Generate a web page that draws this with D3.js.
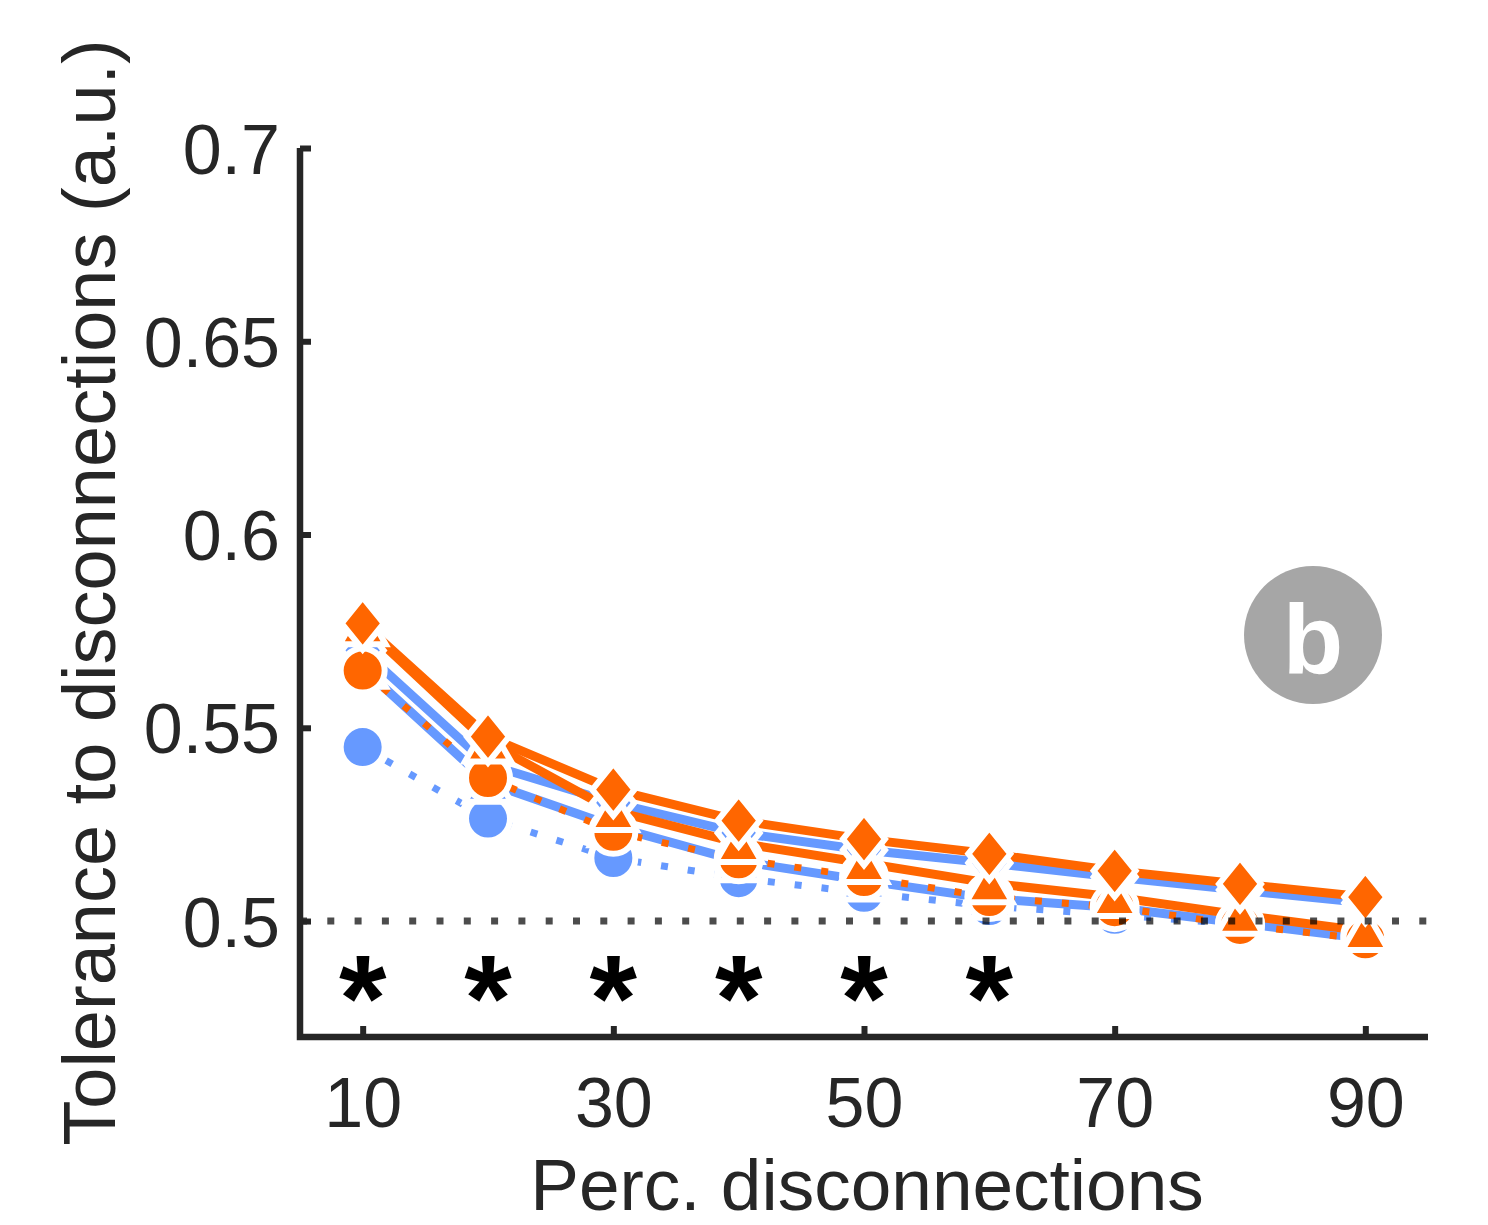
<!DOCTYPE html>
<html>
<head>
<meta charset="utf-8">
<script src="https://cdn.jsdelivr.net/npm/d3@7"></script>
<style>
  body { margin: 0; background: #fff; }
  text { font-family: "Liberation Sans", Arial, Helvetica, sans-serif; }
</style>
</head>
<body>
<svg id="chart" width="1488" height="1225"></svg>
<script>
// x positions (percentage of disconnections)
const percents = [10, 20, 30, 40, 50, 60, 70, 80, 90];
const xTicks = [10, 30, 50, 70, 90];
const yTicks = [0.5, 0.55, 0.6, 0.65, 0.7];

// series
const orangeDiamond  = [0.577, 0.5477, 0.534, 0.526, 0.5212, 0.5174, 0.513, 0.5096, 0.5062];
const blueDiamond    = [0.570, 0.5405, 0.5306, 0.5228, 0.5184, 0.515, 0.5114, 0.508, 0.5047];
const orangeTriangle = [0.5765, 0.5462, 0.5285, 0.5202, 0.515, 0.5098, 0.5062, 0.5016, 0.4974];
const blueTriangle   = [0.5655, 0.5358, 0.5245, 0.5155, 0.5105, 0.5058, 0.5035, 0.4995, 0.4955];
const orangeCircle   = [0.5648, 0.537, 0.5231, 0.516, 0.5114, 0.5062, 0.5036, 0.499, 0.4953];
const blueCircle     = [0.545, 0.5265, 0.5163, 0.5111, 0.5073, 0.5039, 0.5016, 0.4992, 0.4962];

// significance stars
const starPercents = [10, 20, 30, 40, 50, 60];

const orange = "#ff6600";
const blue = "#6699ff";
const ink = "#262626";

const svg = d3.select("#chart");
const plotLeft = 300, plotRight = 1428, plotTop = 148, plotBottom = 1037;

const x = d3.scaleLinear().domain([5, 95]).range([plotLeft, plotRight]);
const y = d3.scaleLinear().domain([0.47, 0.7]).range([plotBottom, plotTop]);

const series = [
  {values: blueDiamond,    color: blue,   marker: "diamond",  dash: null},
  {values: blueTriangle,   color: blue,   marker: "triangle", dash: null},
  {values: blueCircle,     color: blue,   marker: "circle",   dash: "7 20"},
  {values: orangeDiamond,  color: orange, marker: "diamond",  dash: null},
  {values: orangeTriangle, color: orange, marker: "triangle", dash: null},
  {values: orangeCircle,   color: orange, marker: "circle",   dash: "7 20"}
];

const markerPath = {
  diamond: "M0,-26L21,0L0,26L-21,0Z",
  triangle: "M0,-21L23,19L-23,19Z",
  circle: d3.symbol().type(d3.symbolCircle).size(Math.PI * 22 * 22)()
};

const line = d3.line()
  .x((d, i) => x(percents[i]))
  .y(d => y(d));

// lines first
svg.append("g").selectAll("path")
  .data(series)
  .enter().append("path")
  .attr("d", d => line(d.values))
  .attr("fill", "none")
  .attr("stroke", d => d.color)
  .attr("stroke-width", d => d.marker == "circle" ? 7 : 9)
  .attr("stroke-dasharray", d => d.dash)
  .attr("stroke-linecap", "butt");

// markers: circles, then triangles, then diamonds, blue under orange
const markerOrder = ["circle", "triangle", "diamond"];
const ordered = [];
for (let c of [blue, orange]) {
  for (let m of markerOrder) {
    series.filter(s => s.color == c && s.marker == m).forEach(s => ordered.push(s));
  }
}
ordered.forEach(s => {
  svg.append("g").selectAll("path")
    .data(s.values)
    .enter().append("path")
    .attr("d", markerPath[s.marker])
    .attr("transform", (d, i) => `translate(${x(percents[i])},${y(d)})`)
    .attr("fill", s.color)
    .attr("stroke", "#fff")
    .attr("stroke-width", 6)
    .attr("stroke-linejoin", "miter");
});

// chance level
svg.append("line")
  .attr("x1", plotLeft).attr("x2", plotRight)
  .attr("y1", y(0.5)).attr("y2", y(0.5))
  .attr("stroke", "#000")
  .attr("stroke-opacity", 0.7)
  .attr("stroke-width", 7)
  .attr("stroke-dasharray", "7 20.3");

// stars
svg.append("g").selectAll("text")
  .data(starPercents)
  .enter().append("text")
  .attr("x", d => x(d))
  .attr("y", 1040)
  .attr("text-anchor", "middle")
  .attr("font-size", 122)
  .attr("font-weight", "bold")
  .attr("fill", "#000")
  .text("*");

// axes
const yAxis = d3.axisLeft(y).tickValues(yTicks).tickSize(-11)
  .tickFormat(d => String(+d.toFixed(2)));
const xAxis = d3.axisBottom(x).tickValues(xTicks).tickSize(-11);

const gy = svg.append("g").attr("transform", `translate(${plotLeft},0)`).call(yAxis);
const gx = svg.append("g").attr("transform", `translate(0,${plotBottom})`).call(xAxis);

[gx, gy].forEach(g => {
  g.select(".domain").remove();
  g.selectAll(".tick line").attr("stroke", ink).attr("stroke-width", 6);
  g.selectAll(".tick text")
    .attr("fill", ink)
    .attr("font-size", 70)
    .attr("font-family", "Liberation Sans, Arial, sans-serif");
});
gy.selectAll(".tick text").attr("x", -20).attr("dy", "0.36em");
gx.selectAll(".tick text").attr("y", 90).attr("dy", 0);

svg.append("path")
  .attr("d", `M${plotLeft},${plotTop}V${plotBottom}H${plotRight}`)
  .attr("fill", "none")
  .attr("stroke", ink)
  .attr("stroke-width", 6.5);

// labels
svg.append("text")
  .attr("x", 867).attr("y", 1210)
  .attr("text-anchor", "middle")
  .attr("font-size", 73)
  .attr("fill", ink)
  .text("Perc. disconnections");

svg.append("text")
  .attr("transform", `translate(115,${(plotTop + plotBottom) / 2}) rotate(-90)`)
  .attr("text-anchor", "middle")
  .attr("font-size", 74)
  .attr("fill", ink)
  .text("Tolerance to disconnections (a.u.)");

// panel badge
svg.append("circle")
  .attr("cx", 1313).attr("cy", 635).attr("r", 69)
  .attr("fill", "#a6a6a6");
svg.append("text")
  .attr("x", 1313).attr("y", 673)
  .attr("text-anchor", "middle")
  .attr("font-size", 99)
  .attr("font-weight", "bold")
  .attr("fill", "#fff")
  .text("b");
</script>
</body>
</html>
